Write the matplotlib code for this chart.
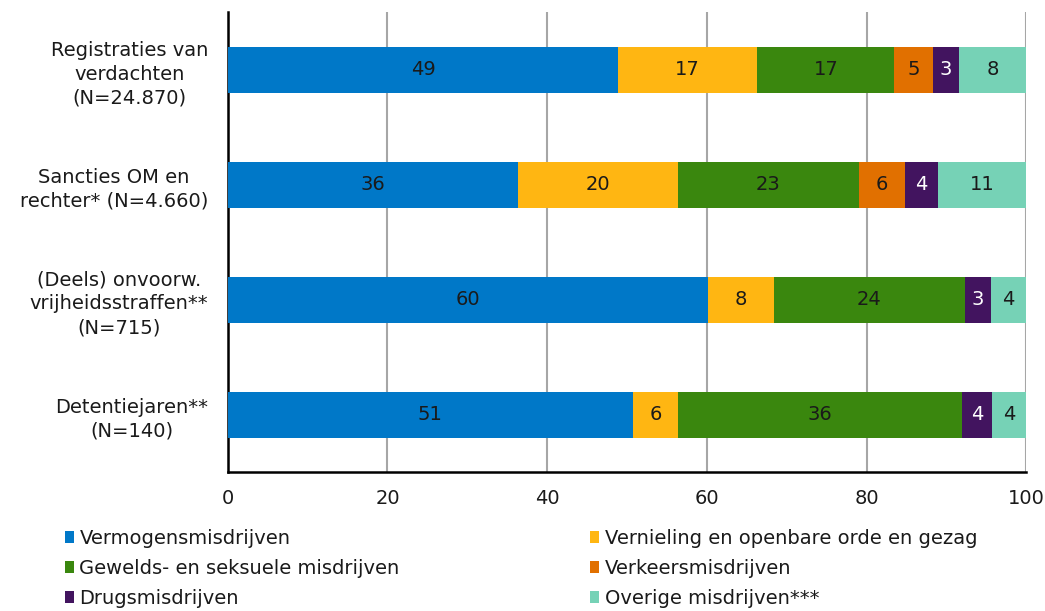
import numpy as np
import matplotlib.pyplot as plt

categories = ["Registraties van\nverdachten\n(N=24.870)",
              "Sancties OM en\nrechter* (N=4.660)",
              "(Deels) onvoorw.\nvrijheidsstraffen**\n(N=715)",
              "Detentiejaren**\n(N=140)"]

series = ["Vermogensmisdrijven",
          "Vernieling en openbare orde en gezag",
          "Gewelds- en seksuele misdrijven",
          "Verkeersmisdrijven",
          "Drugsmisdrijven",
          "Overige misdrijven***"]

vermogen = [48.9, 36.4, 60.1, 50.7]
vernieling = [17.4, 20.0, 8.3, 5.7]
geweld = [17.2, 22.6, 23.9, 35.6]
verkeer = [4.8, 5.8, 0.0, 0.0]
drugs = [3.3, 4.2, 3.3, 3.7]
overig = [8.4, 11.0, 4.4, 4.3]

colors = ["#0078C8", "#FFB612", "#3A870E", "#E17000", "#42145F", "#76D2B6"]
text_colors = ["#1a1a1a", "#1a1a1a", "#1a1a1a", "#1a1a1a", "white", "#1a1a1a"]

plt.rcParams['font.family'] = ['DejaVu Sans']
fs = 14

fig = plt.figure(figsize=(10.45, 6.11), dpi=100)
ax = fig.add_axes([0.218, 0.2275, 0.764, 0.7525])

data = [vermogen, vernieling, geweld, verkeer, drugs, overig]
y = np.arange(len(categories))
left = np.zeros(len(categories))
handles = []
for vals, name, c, tc in zip(data, series, colors, text_colors):
    vals = np.array(vals)
    b = ax.barh(y, vals, left=left, height=0.4, color=c, label=name, zorder=3)
    handles.append(b)
    for yi, v, l in zip(y, vals, left):
        if v > 0:
            ax.text(l + v / 2, yi, "%d" % round(v), ha='center', va='center',
                    color=tc, fontsize=fs, zorder=4)
    left += vals

ax.set_xlim(0, 100)
ax.set_ylim(3.5, -0.5)
ax.set_xticks(range(0, 101, 20))
ax.set_yticks(y)
ax.set_yticklabels(categories, ha='right', multialignment='center',
                   fontsize=fs, color='#1a1a1a', linespacing=1.32)
ax.tick_params(axis='y', length=0, pad=14)
ax.tick_params(axis='x', length=0, pad=12, labelsize=fs, labelcolor='#1a1a1a')
ax.grid(axis='x', color='#A6A6A6', linewidth=1.5, zorder=0)
for s in ['top', 'right']:
    ax.spines[s].set_visible(False)
for s in ['left', 'bottom']:
    ax.spines[s].set_linewidth(1.8)
    ax.spines[s].set_color('black')

order = [0, 2, 4, 1, 3, 5]
fig.legend([handles[i] for i in order], [series[i] for i in order],
           ncol=2, loc='upper left', bbox_to_anchor=(0.062, 0.134),
           frameon=False, fontsize=fs, handlelength=0.45, handleheight=0.55,
           handletextpad=0.3, columnspacing=9.8, labelspacing=0.56,
           labelcolor='#1a1a1a', borderaxespad=0, borderpad=0)

fig.savefig("out.png", dpi=100)
